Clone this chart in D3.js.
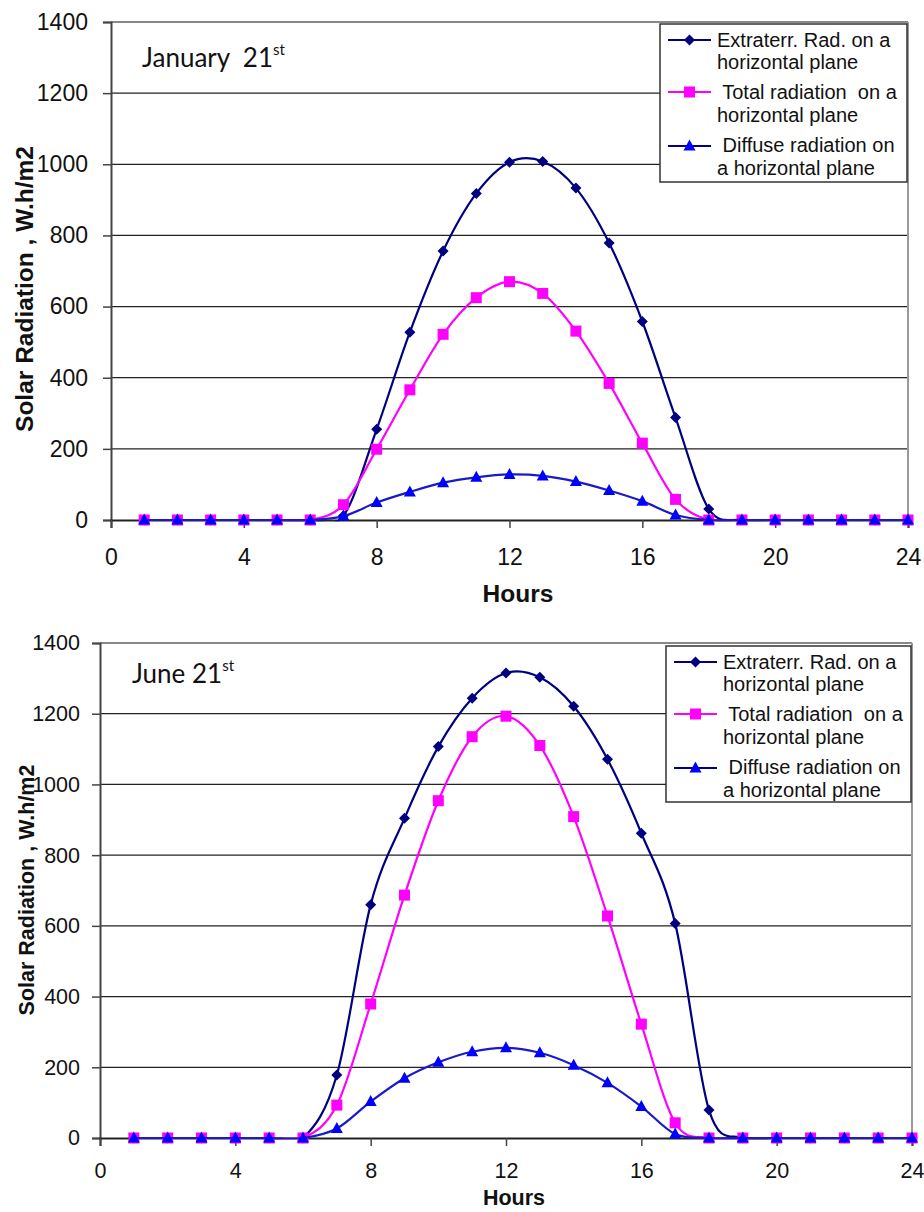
<!DOCTYPE html>
<html>
<head>
<meta charset="utf-8">
<script src="https://cdn.jsdelivr.net/npm/d3@7"></script>
<style>
  html, body { margin: 0; padding: 0; background: #fff; }
  svg { display: block; }
  text { font-family: "Liberation Sans", Arial, sans-serif; fill: #111; }
  .pre { white-space: pre; }
</style>
</head>
<body>
<svg id="chart" width="924" height="1212"></svg>
<script>
// ---------------- DATA ----------------
const hours = [1,2,3,4,5,6,7,8,9,10,11,12,13,14,15,16,17,18,19,20,21,22,23,24];

const janExtraterr = [0,0,0,0,0,0,12,255,528,756,918,1006,1008,933,779,558,288,31,0,0,0,0,0,0];
const janTotal     = [0,0,0,0,0,0,43,199,366,522,625,670,637,531,384,216,58,0,0,0,0,0,0,0];
const janDiffuse   = [0,0,0,0,0,0,11,49,79,105,120,128,124,108,83,53,14,0,0,0,0,0,0,0];

const junExtraterr = [0,0,0,0,0,0,178,660,904,1107,1244,1315,1303,1221,1071,862,607,79,0,0,0,0,0,0];
const junTotal     = [0,0,0,0,0,0,93,379,687,954,1135,1193,1110,909,628,322,43,0,0,0,0,0,0,0];
const junDiffuse   = [0,0,0,0,0,0,27,103,169,214,244,255,241,206,156,89,11,0,0,0,0,0,0,0];

const xTicks = [0,4,8,12,16,20,24];
const yTicks = [0,200,400,600,800,1000,1200,1400];

const seriesNames = [
  ["Extraterr. Rad. on a", "horizontal plane"],
  [" Total radiation  on a", "horizontal plane"],
  [" Diffuse radiation on", "a horizontal plane"]
];
const xTitle = "Hours";
const yTitle = "Solar Radiation , W.h/m2";
const dateLabels = [["January  21", "st"], ["June 21", "st"]];

// ---------------- STYLE / LAYOUT ----------------
const seriesStyle = [
  { line: "#000080", fill: "#000080", marker: "diamond" },
  { line: "#ff00ff", fill: "#ff00ff", marker: "square" },
  { line: "#1a1ac8", fill: "#0000ff", marker: "triangle" }
];

const layouts = [
  { id: "a", left: 111, right: 908, top: 22, bottom: 520, tickFont: 23, titleFont: 24.5,
    yLabelRight: 88, xLabelDy: 45, xTitleX: 518, xTitleY: 602,
    yTitleX: 33, yTitleY: 289, dateX: 142, dateY: 67, dateFont: 26,
    legend: { x: 660, y: 24, w: 247, h: 158 } },
  { id: "b", left: 100, right: 912, top: 643, bottom: 1138, tickFont: 21.5, titleFont: 21.5,
    yLabelRight: 80, xLabelDy: 40, xTitleX: 514, xTitleY: 1205,
    yTitleX: 34, yTitleY: 890, dateX: 132, dateY: 683, dateFont: 26,
    legend: { x: 666, y: 646, w: 245, h: 156 } }
];

const svg = d3.select("#chart");
const defs = svg.append("defs");

function markerPath(type) {
  if (type === "diamond") return "M0,-5.5L5.5,0L0,5.5L-5.5,0Z";
  if (type === "square") return "M-5.5,-5.5H5.5V5.5H-5.5Z";
  return "M0,-6.5L6,4.5L-6,4.5Z";
}

function drawChart(L, seriesData, dateLabel) {
  const g = svg.append("g");
  const x = d3.scaleLinear().domain([0, 24]).range([L.left, L.right]);
  const y = d3.scaleLinear().domain([0, 1400]).range([L.bottom, L.top]);

  defs.append("clipPath").attr("id", "clip-" + L.id)
    .append("rect").attr("x", L.left - 10).attr("y", L.top - 10)
    .attr("width", L.right - L.left + 20).attr("height", L.bottom - L.top + 11.2);

  // gridlines
  g.append("g").selectAll("line").data(yTicks.filter(t => t > 0 && t < 1400)).join("line")
    .attr("x1", L.left).attr("x2", L.right)
    .attr("y1", d => y(d)).attr("y2", d => y(d))
    .attr("stroke", "#222").attr("stroke-width", 1.2);

  // plot border top & right
  g.append("line").attr("x1", L.left).attr("x2", L.right)
    .attr("y1", y(1400)).attr("y2", y(1400)).attr("stroke", "#888").attr("stroke-width", 2);
  g.append("line").attr("x1", L.right).attr("x2", L.right)
    .attr("y1", y(1400)).attr("y2", y(0)).attr("stroke", "#999").attr("stroke-width", 2);

  // y axis
  const yAxis = d3.axisLeft(y).tickValues(yTicks).tickSize(8).tickFormat(d3.format("d"));
  const ya = g.append("g").attr("transform", `translate(${L.left},0)`).call(yAxis);
  ya.select(".domain").attr("stroke", "#444").attr("stroke-width", 2);
  ya.selectAll(".tick line").attr("stroke", "#444").attr("stroke-width", 1.5);
  ya.selectAll(".tick text").attr("x", -(L.left - L.yLabelRight))
    .attr("font-size", L.tickFont).attr("fill", "#111")
    .style("font-family", '"Liberation Sans", Arial, sans-serif');

  // x axis
  const xAxis = d3.axisBottom(x).tickValues(xTicks).tickSize(8).tickFormat(d3.format("d"));
  const xa = g.append("g").attr("transform", `translate(0,${L.bottom})`).call(xAxis);
  xa.select(".domain").attr("stroke", "#222").attr("stroke-width", 2);
  xa.selectAll(".tick line").attr("stroke", "#444").attr("stroke-width", 1.5);
  xa.selectAll(".tick text").attr("y", L.xLabelDy).attr("dy", 0)
    .attr("font-size", L.tickFont).attr("fill", "#111")
    .style("font-family", '"Liberation Sans", Arial, sans-serif');

  // titles
  g.append("text").attr("x", L.xTitleX).attr("y", L.xTitleY)
    .attr("text-anchor", "middle").attr("font-weight", "bold")
    .attr("font-size", L.titleFont).text(xTitle);
  g.append("text").attr("transform", `translate(${L.yTitleX},${L.yTitleY}) rotate(-90)`)
    .attr("text-anchor", "middle").attr("font-weight", "bold")
    .attr("font-size", L.titleFont).attr("class", "pre").text(yTitle);

  // date label
  const dt = g.append("text").attr("x", L.dateX).attr("y", L.dateY)
    .attr("class", "pre")
    .style("font-family", "Lato, 'Open Sans', sans-serif")
    .attr("font-size", L.dateFont).attr("fill", "#000");
  dt.append("tspan").text(dateLabel[0]);
  dt.append("tspan").attr("dy", -12).attr("font-size", 15).text(dateLabel[1]);

  // series
  const line = d3.line()
    .x((d, i) => x(hours[i]))
    .y(d => y(d))
    .curve(d3.curveCardinal.tension(0));

  seriesData.forEach((vals, si) => {
    const st = seriesStyle[si];
    const sg = g.append("g");
    sg.append("path").attr("d", line(vals))
      .attr("clip-path", `url(#clip-${L.id})`)
      .attr("fill", "none").attr("stroke", st.line).attr("stroke-width", 2.2);
    sg.selectAll("path.m").data(vals).join("path").attr("class", "m")
      .attr("d", markerPath(st.marker))
      .attr("transform", (d, i) => `translate(${x(hours[i])},${y(d)})`)
      .attr("fill", st.fill);
  });

  // legend
  const lg = L.legend;
  const leg = g.append("g").attr("transform", `translate(${lg.x},${lg.y})`);
  leg.append("rect").attr("width", lg.w).attr("height", lg.h)
    .attr("fill", "#fff").attr("stroke", "#333").attr("stroke-width", 1.5);
  const markerY = [16, 68, 122];
  const textY = [[23, 45], [75, 98], [128, 151]];
  seriesNames.forEach((nm, si) => {
    const st = seriesStyle[si];
    leg.append("line").attr("x1", 8).attr("x2", 51)
      .attr("y1", markerY[si]).attr("y2", markerY[si])
      .attr("stroke", si === 2 ? "#000090" : st.line).attr("stroke-width", 2.2);
    leg.append("path").attr("d", markerPath(st.marker))
      .attr("transform", `translate(29.5,${markerY[si]})`).attr("fill", st.fill);
    nm.forEach((t, li) => {
      leg.append("text").attr("class", "pre").attr("x", 57).attr("y", textY[si][li])
        .attr("font-size", 20).attr("fill", "#000").text(t);
    });
  });
}

drawChart(layouts[0], [janExtraterr, janTotal, janDiffuse], dateLabels[0]);
drawChart(layouts[1], [junExtraterr, junTotal, junDiffuse], dateLabels[1]);
</script>
</body>
</html>
